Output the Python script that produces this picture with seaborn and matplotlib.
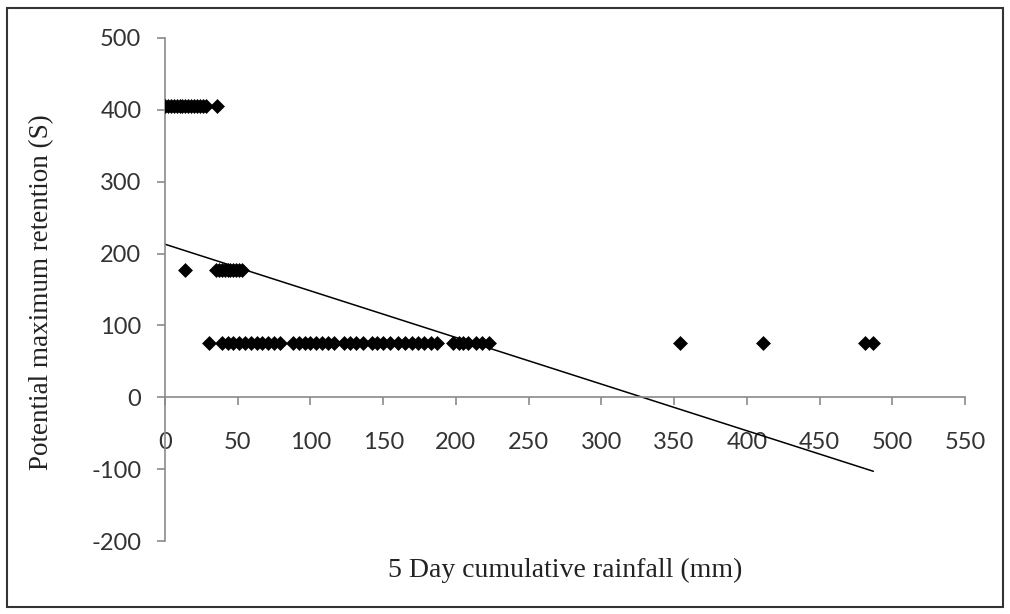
import numpy as np
import pandas as pd
import matplotlib.pyplot as plt
import seaborn as sns
from matplotlib.patches import Rectangle

# Values
rain_s405 = [0, 2, 4, 6, 8, 10, 12, 14, 16, 18, 20, 22, 24, 26, 28, 36]
rain_s177 = [14, 35, 37, 39, 41, 43, 45, 47, 49, 51, 53]
rain_s76 = [30, 39, 43, 47, 51, 55, 59, 63, 67, 71, 75, 79,
            88, 92, 96, 100, 104, 108, 112, 116,
            123, 127, 131, 136, 142, 146, 150, 155, 160, 165, 170, 174, 178, 183, 187,
            198, 202, 205, 208, 214, 218, 223,
            354, 411, 481, 487]
s_levels = [405, 177, 76]

# Linear trend line (as shown on chart)
trend_x = [0, 487]
trend_y = [213, -103]

df = pd.DataFrame({
    'rain': rain_s405 + rain_s177 + rain_s76,
    'S': [s_levels[0]] * len(rain_s405) + [s_levels[1]] * len(rain_s177) + [s_levels[2]] * len(rain_s76),
})

sns.set_style("white")
plt.rcParams['font.family'] = ['Lato', 'DejaVu Sans']
plt.rcParams['axes.unicode_minus'] = False

fig = plt.figure(figsize=(10.1, 6.14), dpi=100)
ax = fig.add_axes([165 / 1010, 1 - 541 / 614, 800 / 1010, 503 / 614])

sns.scatterplot(data=df, x='rain', y='S', marker='D', color='black', s=50,
                edgecolor='black', linewidth=0.5, ax=ax, zorder=3)
sns.lineplot(x=trend_x, y=trend_y, color='black', linewidth=1.1, ax=ax, zorder=2)

ax.set_xlim(0, 550)
ax.set_ylim(-200, 500)
ax.set_xticks(np.arange(0, 551, 50))
ax.set_yticks(np.arange(-200, 501, 100))

ax.spines['bottom'].set_position(('data', 0))
ax.spines['top'].set_visible(False)
ax.spines['right'].set_visible(False)
for sp in ['left', 'bottom']:
    ax.spines[sp].set_color('#8a8a8a')
    ax.spines[sp].set_linewidth(1.2)

ax.tick_params(axis='both', colors='#8a8a8a', labelcolor='#333333', labelsize=17,
               length=6, width=1.2, direction='out', bottom=True, left=True)
ax.tick_params(axis='x', pad=19)
ax.tick_params(axis='y', pad=11)

fig.text(565 / 1010, 1 - 570 / 614, '5 Day cumulative rainfall (mm)', ha='center', va='center',
         fontsize=20, family='Liberation Serif', color='#222222')
fig.text(42 / 1010, 1 - 292 / 614, 'Potential maximum retention (S)', ha='center', va='center',
         rotation=90, fontsize=19.5, family='Liberation Serif', color='#222222')
ax.set_xlabel('')
ax.set_ylabel('')

fig.patches.append(Rectangle((7 / 1010, 1 - 607 / 614), 996 / 1010, 599 / 614,
                             transform=fig.transFigure, fill=False,
                             edgecolor='#333333', linewidth=1.5))

fig.savefig('out.png', dpi=100)
